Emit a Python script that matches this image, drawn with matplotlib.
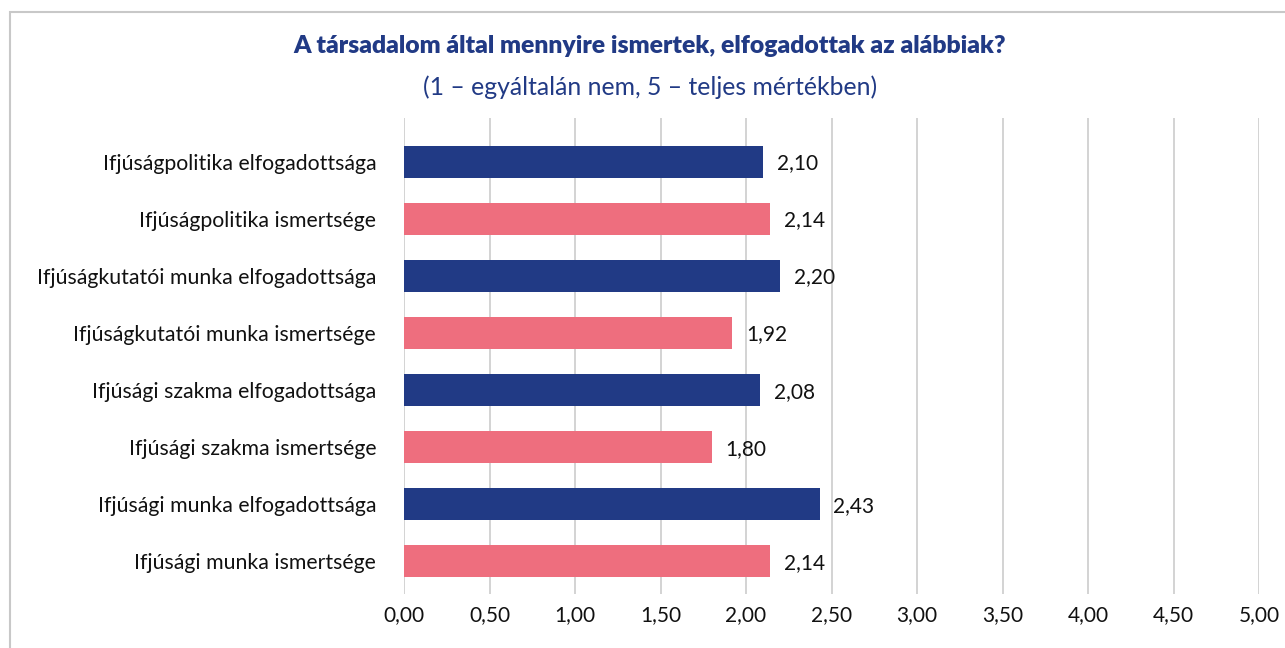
import matplotlib.pyplot as plt
from matplotlib.patches import Rectangle

categories = [
    'Ifjúságpolitika elfogadottsága',
    'Ifjúságpolitika ismertsége',
    'Ifjúságkutatói munka elfogadottsága',
    'Ifjúságkutatói munka ismertsége',
    'Ifjúsági szakma elfogadottsága',
    'Ifjúsági szakma ismertsége',
    'Ifjúsági munka elfogadottsága',
    'Ifjúsági munka ismertsége',
]
values = [2.10, 2.14, 2.20, 1.92, 2.08, 1.80, 2.43, 2.14]
ticks = [0, 0.5, 1, 1.5, 2, 2.5, 3, 3.5, 4, 4.5, 5]

navy = '#213a85'
pink = '#ee6e7e'
colors = [navy if 'elfogadotts' in c else pink for c in categories]

plt.rcParams['font.family'] = ['Lato', 'DejaVu Sans']

W, H = 1285, 648
fig = plt.figure(figsize=(W / 100, H / 100), dpi=100)
# axes placed in pixel coordinates of the reference
left, right, top, bottom = 404, 1259, 118, 594
ax = fig.add_axes([left / W, 1 - bottom / H, (right - left) / W, (bottom - top) / H])

y = list(range(len(categories)))
ax.barh(y, values, height=0.56, color=colors, zorder=3)
for yi, v in zip(y, values):
    ax.annotate(f'{v:.2f}'.replace('.', ','), xy=(v, yi), xytext=(10, -1),
                textcoords='offset points', va='center', ha='left',
                fontsize=15, color='#111111', zorder=4)

ax.set_xlim(0, 5)
ax.set_ylim(7.57, -0.77)
ax.set_yticks(y)
ax.set_yticklabels(categories, fontsize=15.3, color='#111111')
ax.set_xticks(ticks)
ax.set_xticklabels([f'{t:.2f}'.replace('.', ',') for t in ticks], fontsize=15, color='#111111')
ax.tick_params(axis='y', length=0, pad=20)
ax.tick_params(axis='x', length=0, pad=8)
ax.grid(axis='x', color='#d0d0d0', linewidth=1.3, zorder=0)
for s in ax.spines.values():
    s.set_visible(False)

cx = 650 / W
fig.text(cx, 1 - 46 / H, 'A társadalom által mennyire ismertek, elfogadottak az alábbiak?',
         ha='center', va='center', fontsize=17.8, fontweight='heavy', color=navy)
fig.text(cx, 1 - 87 / H, '(1 – egyáltalán nem, 5 – teljes mértékben)',
         ha='center', va='center', fontsize=17.8, color=navy)

# light frame around the chart area
fig.patches.append(Rectangle((10 / W, -0.05), 1.1, 1.05 - 12 / H, transform=fig.transFigure,
                             fill=False, edgecolor='#c8c8c8', linewidth=1.5))

fig.savefig('out.png', dpi=100)
